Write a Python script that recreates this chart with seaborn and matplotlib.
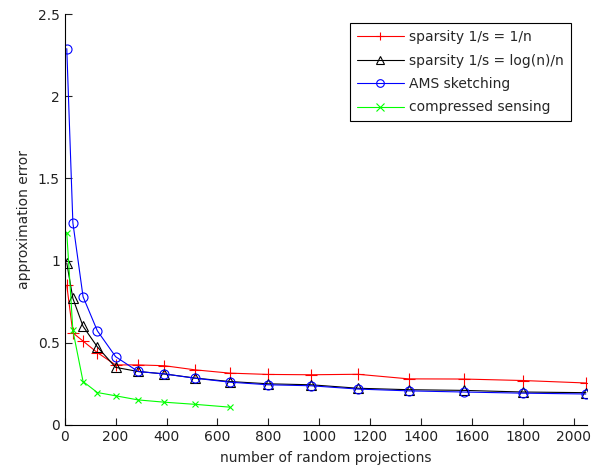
import pandas as pd
import matplotlib.pyplot as plt
import seaborn as sns

projections = [8, 32, 72, 128, 200, 288, 392, 512, 648, 800, 968, 1152, 1352, 1568, 1800, 2048]
err_sparse_1n = [0.85, 0.56, 0.51, 0.44, 0.365, 0.365, 0.36, 0.335, 0.315, 0.307, 0.305, 0.308, 0.28, 0.279, 0.27, 0.255]
err_sparse_logn = [0.985, 0.77, 0.60, 0.475, 0.35, 0.325, 0.31, 0.285, 0.264, 0.25, 0.244, 0.223, 0.214, 0.21, 0.20, 0.196]
err_ams = [2.29, 1.23, 0.78, 0.573, 0.415, 0.325, 0.31, 0.284, 0.26, 0.244, 0.238, 0.218, 0.207, 0.20, 0.193, 0.188]
err_cs = [1.17, 0.575, 0.264, 0.197, 0.177, 0.152, 0.138, 0.125, 0.108]

labels = ['sparsity 1/s = 1/n', 'sparsity 1/s = log(n)/n', 'AMS sketching', 'compressed sensing']
series = [err_sparse_1n, err_sparse_logn, err_ams, err_cs]
colors = ['#ff0000', '#000000', '#0000ff', '#00ff00']
markers = ['+', '^', 'o', 'x']
msizes = [9, 7, 6.5, 4]

sns.set_theme(style="ticks")
plt.rcParams['font.family'] = ['DejaVu Sans']

fig = plt.figure(figsize=(6.05, 4.7), dpi=100)
ax = fig.add_axes([0.107, 0.096, 0.863, 0.874])

for lab, vals, c, m, ms in zip(labels, series, colors, markers, msizes):
    d = pd.DataFrame({'n': projections[:len(vals)], 'err': vals})
    sns.lineplot(data=d, x='n', y='err', color=c, marker=m, markersize=ms,
                 markerfacecolor='none', markeredgecolor=c, markeredgewidth=0.8,
                 linewidth=0.8, label=lab, ax=ax)

ax.set_xlim(0, 2052)
ax.set_ylim(0, 2.5)
ax.set_xticks(range(0, 2001, 200))
ax.set_yticks([0, 0.5, 1, 1.5, 2, 2.5])
ax.set_yticklabels(['0', '0.5', '1', '1.5', '2', '2.5'])
ax.tick_params(direction='in', length=5, width=0.8, labelsize=10, colors='#222222')
sns.despine(ax=ax)
for s in ['left', 'bottom']:
    ax.spines[s].set_color('black')
    ax.spines[s].set_linewidth(0.8)

ax.set_xlabel('number of random projections', fontsize=10, labelpad=5)
ax.set_ylabel('approximation error', fontsize=10, labelpad=5)

leg = ax.legend(loc='upper right', bbox_to_anchor=(0.97, 0.978), fontsize=10,
                frameon=True, fancybox=False, framealpha=1, edgecolor='black',
                handlelength=3.4, handletextpad=0.4, borderpad=0.5,
                labelspacing=0.68, borderaxespad=0)
leg.get_frame().set_linewidth(0.8)
for h in leg.legend_handles:
    h.set_markersize(5.5)

plt.savefig('out.png', dpi=100)
plt.close()
